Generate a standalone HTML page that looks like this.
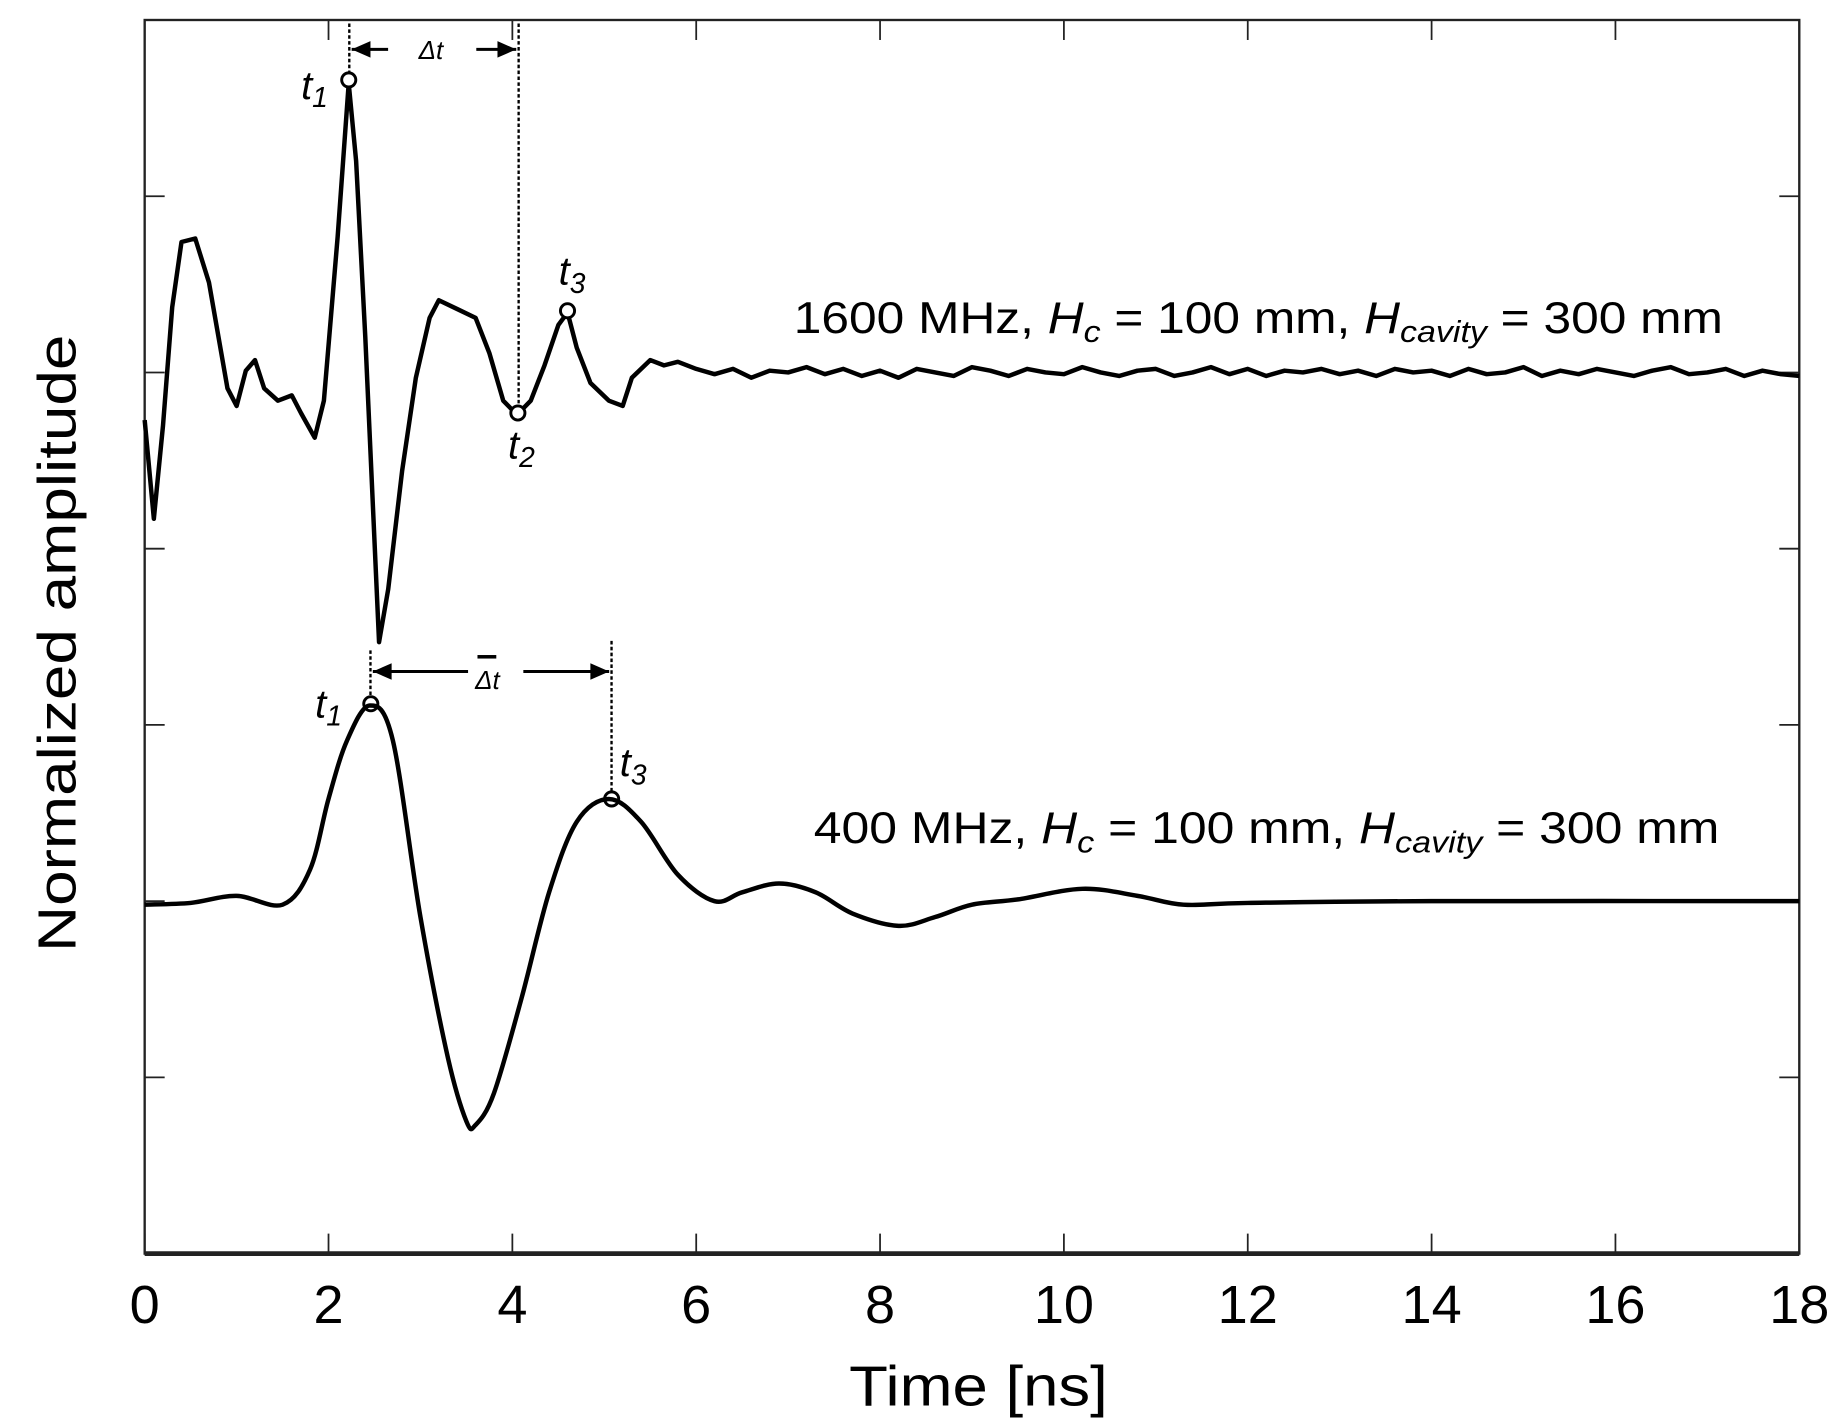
<!DOCTYPE html>
<html><head><meta charset="utf-8"><style>
html,body{margin:0;padding:0;background:#fff;}
svg{display:block;font-family:"Liberation Sans",sans-serif;}
</style></head><body>
<svg id="chart" width="1844" height="1428" viewBox="0 0 1568 1214.3" xmlns="http://www.w3.org/2000/svg">
<rect x="0" y="0" width="1568" height="1214.3" fill="#fff"/>
<g id="axes"></g>
<g id="series"></g>
<g id="annot" fill="#000"></g>
<text transform="translate(64,547) rotate(-90)" text-anchor="middle" font-size="46" textLength="525" lengthAdjust="spacingAndGlyphs">Normalized amplitude</text>
<text x="832" y="1195" text-anchor="middle" font-size="48" textLength="220" lengthAdjust="spacingAndGlyphs">Time [ns]</text>
<text x="675" y="283" font-size="38" textLength="790" lengthAdjust="spacingAndGlyphs">1600 MHz, <tspan font-style="italic">H</tspan><tspan font-style="italic" font-size="26" dy="8">c</tspan><tspan dy="-8"> = 100 mm, </tspan><tspan font-style="italic">H</tspan><tspan font-style="italic" font-size="26" dy="8">cavity</tspan><tspan dy="-8"> = 300 mm</tspan></text>
<text x="692" y="717" font-size="38" textLength="770" lengthAdjust="spacingAndGlyphs">400 MHz, <tspan font-style="italic">H</tspan><tspan font-style="italic" font-size="26" dy="8">c</tspan><tspan dy="-8"> = 100 mm, </tspan><tspan font-style="italic">H</tspan><tspan font-style="italic" font-size="26" dy="8">cavity</tspan><tspan dy="-8"> = 300 mm</tspan></text>
</svg>
<script>
const xTicks = [0,2,4,6,8,10,12,14,16,18];
const xTickLabels = ["0","2","4","6","8","10","12","14","16","18"];
const yTicks = [1,2,3,4,5,6];
const topOffset = 5;
const bottomOffset = 2;
const topTimes = [0,0.1,0.2,0.3,0.4,0.55,0.7,0.9,1.0,1.1,1.2,1.3,1.45,1.6,1.7,1.85,1.95,2.1,2.22,2.3,2.4,2.55,2.65,2.8,2.95,3.1,3.2,3.4,3.6,3.75,3.9,4.05,4.2,4.35,4.5,4.6,4.7,4.85,5.05,5.2,5.3,5.5,5.65,5.8,6.0,6.2,6.4,6.6,6.8,7.0,7.2,7.4,7.6,7.8,8.0,8.2,8.4,8.6,8.8,9.0,9.2,9.4,9.6,9.8,10.0,10.2,10.4,10.6,10.8,11.0,11.2,11.4,11.6,11.8,12.0,12.2,12.4,12.6,12.8,13.0,13.2,13.4,13.6,13.8,14.0,14.2,14.4,14.6,14.8,15.0,15.2,15.4,15.6,15.8,16.0,16.2,16.4,16.6,16.8,17.0,17.2,17.4,17.6,17.8,18.0];
const topValues = [-0.27,-0.83,-0.3,0.37,0.74,0.76,0.51,-0.09,-0.19,0.01,0.07,-0.09,-0.16,-0.13,-0.23,-0.37,-0.16,0.77,1.64,1.2,0.2,-1.53,-1.23,-0.56,-0.03,0.31,0.41,0.36,0.31,0.11,-0.16,-0.24,-0.16,0.04,0.27,0.34,0.14,-0.06,-0.16,-0.19,-0.03,0.07,0.04,0.06,0.02,-0.01,0.02,-0.03,0.01,0.0,0.03,-0.01,0.02,-0.02,0.01,-0.03,0.02,0.0,-0.02,0.03,0.01,-0.02,0.02,0.0,-0.01,0.03,0.0,-0.02,0.01,0.02,-0.02,0.0,0.03,-0.01,0.02,-0.02,0.01,0.0,0.02,-0.01,0.01,-0.02,0.02,0.0,0.01,-0.02,0.02,-0.01,0.0,0.03,-0.02,0.01,-0.01,0.02,0.0,-0.02,0.01,0.03,-0.01,0.0,0.02,-0.02,0.01,-0.01,-0.02];
const bottomTimes = [0,0.5,1.0,1.5,1.8,2.0,2.2,2.45,2.7,3.0,3.3,3.5,3.6,3.8,4.1,4.4,4.7,5.05,5.4,5.8,6.2,6.5,6.9,7.3,7.7,8.2,8.6,9.0,9.5,10.2,10.8,11.3,12,14,18];
const bottomValues = [-0.02,-0.01,0.03,-0.02,0.18,0.58,0.91,1.11,0.91,-0.09,-0.89,-1.25,-1.27,-1.09,-0.55,0.05,0.45,0.58,0.45,0.15,0.0,0.05,0.1,0.05,-0.07,-0.14,-0.09,-0.02,0.01,0.07,0.03,-0.02,-0.01,0.0,0.0];
const markerTop = [[2.22,1.66],[4.06,-0.23],[4.6,0.35]];
const markerBottom = [[2.46,1.12],[5.08,0.58]];

const NS="http://www.w3.org/2000/svg";
const X0=123,X1=1530,Y0=1066,Y1=17;
const xs=t=>X0+(t/18)*(X1-X0);
const ys=v=>Y0-(v/7)*(Y0-Y1);
function mk(tag,attrs,parent){const e=document.createElementNS(NS,tag);for(const k in attrs)e.setAttribute(k,attrs[k]);parent.appendChild(e);return e;}
const axes=document.getElementById('axes');
const frame=mk('rect',{x:X0,y:Y1,width:X1-X0,height:Y0-Y1,fill:'none',stroke:'#222','stroke-width':2},axes);


mk('line',{x1:X0,x2:X1,y1:Y0,y2:Y0,stroke:'#222','stroke-width':4},axes);
xTicks.forEach((t,i)=>{
  const x=xs(t);
  const tk=mk('line',{x1:x,x2:x,y1:Y0,y2:Y0-17,stroke:'#222','stroke-width':1.5},axes);
  
  
  mk('line',{x1:x,x2:x,y1:Y1,y2:Y1+17,stroke:'#222','stroke-width':1.5},axes);
  const lb=mk('text',{x:x,y:1125,'text-anchor':'middle','font-size':46},axes);
  lb.textContent=xTickLabels[i];
  
  
});
yTicks.forEach(v=>{
  const y=ys(v);
  const tk=mk('line',{x1:X0,x2:X0+17,y1:y,y2:y,stroke:'#222','stroke-width':1.5},axes);
  
  
  mk('line',{x1:X1,x2:X1-17,y1:y,y2:y,stroke:'#222','stroke-width':1.5},axes);
});
const series=document.getElementById('series');
let d='';
topTimes.forEach((t,i)=>{d+=(i?'L':'M')+xs(t).toFixed(1)+','+ys(topValues[i]+topOffset).toFixed(1);});
const p1=mk('path',{d:d,fill:'none',stroke:'#000','stroke-width':3.8,'stroke-linejoin':'round'},series);


const pts=bottomTimes.map((t,i)=>[xs(t),ys(bottomValues[i]+bottomOffset)]);
let d2='M'+pts[0][0]+','+pts[0][1];
for(let i=0;i<pts.length-1;i++){
  const p0=pts[Math.max(0,i-1)],a=pts[i],b=pts[i+1],p3=pts[Math.min(pts.length-1,i+2)];
  const c1=[a[0]+(b[0]-p0[0])/6,a[1]+(b[1]-p0[1])/6],c2=[b[0]-(p3[0]-a[0])/6,b[1]-(p3[1]-a[1])/6];
  d2+='C'+c1[0].toFixed(1)+','+c1[1].toFixed(1)+' '+c2[0].toFixed(1)+','+c2[1].toFixed(1)+' '+b[0].toFixed(1)+','+b[1].toFixed(1);
}
const p2=mk('path',{d:d2,fill:'none',stroke:'#000','stroke-width':3.8},series);


markerTop.forEach(m=>{const c=mk('circle',{cx:xs(m[0]),cy:ys(m[1]+topOffset),r:6,fill:'#fff',stroke:'#000','stroke-width':2.5},series);

});
markerBottom.forEach(m=>{const c=mk('circle',{cx:xs(m[0]),cy:ys(m[1]+bottomOffset),r:6,fill:'none',stroke:'#000','stroke-width':2.5},series);

});

const an=document.getElementById('annot');
function dot(x,y1,y2){mk('line',{x1:x,x2:x,y1:y1,y2:y2,stroke:'#000','stroke-width':2,'stroke-dasharray':'3,2'},an);}
function arrow(xFrom,xTo,y){mk('line',{x1:xFrom,x2:xTo,y1:y,y2:y,stroke:'#000','stroke-width':2.5},an);const dir=Math.sign(xTo-xFrom);mk('polygon',{points:`${xTo},${y} ${xTo-dir*16},${y-7} ${xTo-dir*16},${y+7}`},an);}
dot(297,20,62);dot(441,20,346);
arrow(330,299,42);arrow(405,439,42);
dot(315,553,593);dot(520,545,675);
arrow(398,317,571);arrow(445,518,571);
function txt(x,y,s,fs,name){const t=mk('text',{x:x,y:y,'font-size':fs,'font-style':'italic'},an);t.innerHTML=s;}
txt(356,50,'Δt',22,'delta-t-label');
txt(404,586,'Δt',22,'delta-t-bar-label');
mk('rect',{x:406,y:557,width:16,height:3},an);
txt(256,84,'t<tspan font-size="24" dy="7">1</tspan>',34,'t1-label-top');
txt(432,390,'t<tspan font-size="24" dy="7">2</tspan>',34,'t2-label-top');
txt(475,242,'t<tspan font-size="24" dy="7">3</tspan>',34,'t3-label-top');
txt(268,610,'t<tspan font-size="24" dy="7">1</tspan>',34,'t1-label-bottom');
txt(527,660,'t<tspan font-size="24" dy="7">3</tspan>',34,'t3-label-bottom');
</script>
</body></html>
